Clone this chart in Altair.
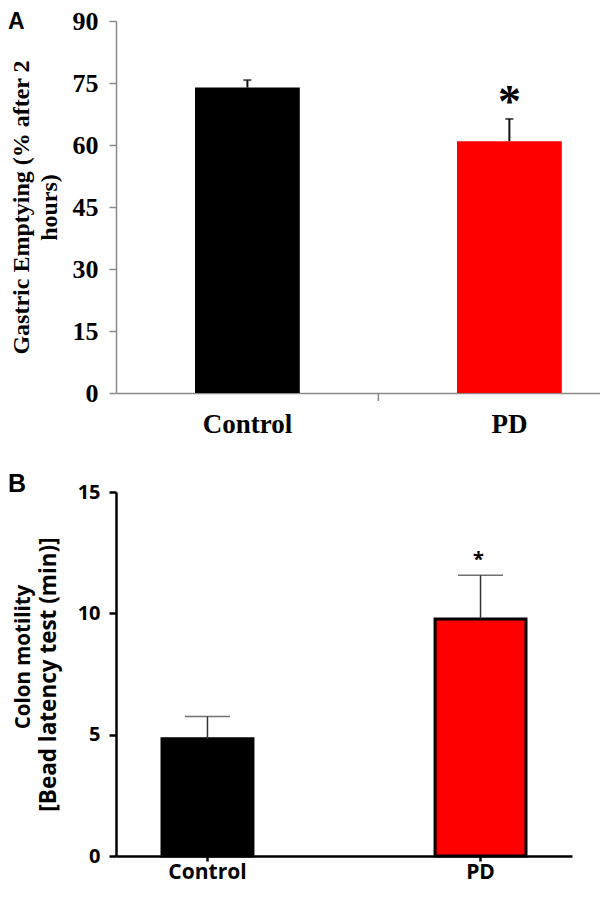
import altair as alt
import pandas as pd

# ---------------- data ----------------
cats = ["Control", "PD"]
bar_colors = ["#000000", "#ff0000"]

# Panel A: gastric emptying (% after 2 hours)
a_mean = [73.9, 60.9]
a_err = [1.8, 5.4]
a_sig = ["", "*"]
a_ticks = [0, 15, 30, 45, 60, 75, 90]

# Panel B: colon motility, bead latency test (min)
b_mean = [4.83, 9.77]
b_err = [0.92, 1.8]
b_sig = ["", "*"]
b_ticks = [0, 5, 10, 15]

dfA = pd.DataFrame({"cat": cats, "mean": a_mean,
                    "top": [m + e for m, e in zip(a_mean, a_err)], "sig": a_sig})
dfB = pd.DataFrame({"cat": cats, "mean": b_mean,
                    "top": [m + e for m, e in zip(b_mean, b_err)], "sig": b_sig})

SERIF = "Liberation Serif"
SANS = "Open Sans"
GRAY = "#8a8a8a"

# ---------------- panel A ----------------
WA, HA = 484, 372
xscaleA = alt.Scale(domain=cats, paddingInner=0.6, paddingOuter=0.2237, align=0.674)
xaxisA = alt.Axis(title=None, labelAngle=0, ticks=False, tickSize=0,
                  domainColor=GRAY, domainWidth=1.5,
                  labelFont=SERIF, labelFontWeight="bold", labelFontSize=27,
                  labelColor="black", labelPadding=18)
yscaleA = alt.Scale(domain=[0, 90], nice=False)
yaxisA = alt.Axis(values=a_ticks, grid=False,
                  title=["Gastric Emptying (% after 2", "hours)"],
                  titleFont=SERIF, titleFontWeight="bold", titleFontSize=24,
                  titleColor="black", titleLineHeight=28, titleAngle=270,
                  titleAlign="center", titleBaseline="top", titleX=-107, titleY=HA / 2,
                  domainColor=GRAY, domainWidth=1.5, tickColor=GRAY, tickWidth=1.5,
                  tickSize=7, labelFont=SERIF, labelFontWeight="bold",
                  labelFontSize=26, labelColor="black", labelPadding=11)

xA = alt.X("cat:N", sort=cats, scale=xscaleA, axis=xaxisA)
baseA = alt.Chart(dfA)

barsA = baseA.mark_bar().encode(
    x=xA,
    y=alt.Y("mean:Q", scale=yscaleA, axis=yaxisA),
    color=alt.Color("cat:N", scale=alt.Scale(domain=cats, range=bar_colors), legend=None),
)
errA = baseA.mark_rule(color="#111111", strokeWidth=2).encode(
    x=xA, y=alt.Y("mean:Q", scale=yscaleA, axis=yaxisA), y2="top:Q")
capA = baseA.mark_tick(color="#111111", thickness=2, size=8).encode(
    x=xA, y=alt.Y("top:Q", scale=yscaleA, axis=yaxisA))
starA = baseA.mark_text(font=SERIF, fontWeight="bold", fontSize=46, dy=-16,
                        color="black").encode(
    x=xA, y=alt.Y("top:Q", scale=yscaleA, axis=yaxisA), text="sig:N")
# category-separator tick of the x axis (midway between the two bars)
midtickA = baseA.transform_filter("datum.cat == 'PD'").mark_rule(
    color=GRAY, strokeWidth=1.5, xOffset=-78.6).encode(
    x=alt.X("cat:N", sort=cats, scale=xscaleA, axis=xaxisA, bandPosition=0),
    y=alt.value(HA), y2=alt.value(HA + 8))
letterA = alt.Chart(pd.DataFrame({"t": ["A"]})).mark_text(
    font="Liberation Sans", fontWeight="bold", fontSize=23, align="left",
    baseline="top", color="black").encode(
    x=alt.value(-108), y=alt.value(-10), text="t:N")

panelA = alt.layer(barsA, errA, capA, starA, midtickA, letterA).properties(width=WA, height=HA)

# ---------------- panel B ----------------
WB, HB = 456, 364
xscaleB = alt.Scale(domain=cats, paddingInner=0.667, paddingOuter=0.1685)
xaxisB = alt.Axis(title=None, labelAngle=0, domainColor="black", domainWidth=2.5,
                  tickColor="black", tickWidth=2.5, tickSize=5,
                  labelFont=SANS, labelFontWeight="bold", labelFontSize=21,
                  labelColor="black", labelPadding=0)
yscaleB = alt.Scale(domain=[0, 15], nice=False)
yaxisB = alt.Axis(values=b_ticks, grid=False,
                  title="[Bead latency test (min)]",
                  titleFont=SANS, titleFontWeight="bold", titleFontSize=22.5,
                  titleColor="black", titleAngle=270,
                  titleAlign="center", titleBaseline="top", titleX=-79, titleY=HB / 2,
                  domainColor="black", domainWidth=2.5, tickColor="black", tickWidth=2.5,
                  tickSize=7, labelFont=SANS, labelFontWeight="bold", labelFontSize=20,
                  labelColor="black", labelPadding=9)

xB = alt.X("cat:N", sort=cats, scale=xscaleB, axis=xaxisB)
baseB = alt.Chart(dfB)

barsB = baseB.mark_bar(stroke="black", strokeWidth=3).encode(
    x=xB,
    y=alt.Y("mean:Q", scale=yscaleB, axis=yaxisB),
    color=alt.Color("cat:N", scale=alt.Scale(domain=cats, range=bar_colors), legend=None),
)
errB = baseB.mark_rule(color="#333333", strokeWidth=1.5).encode(
    x=xB, y=alt.Y("mean:Q", scale=yscaleB, axis=yaxisB), y2="top:Q")
capB = baseB.mark_tick(color="#333333", thickness=1.5, size=45).encode(
    x=xB, y=alt.Y("top:Q", scale=yscaleB, axis=yaxisB))
starB = baseB.mark_text(font=SANS, fontWeight="bold", fontSize=20, dy=-15, dx=-2,
                        color="black").encode(
    x=xB, y=alt.Y("top:Q", scale=yscaleB, axis=yaxisB), text="sig:N")
letterB = alt.Chart(pd.DataFrame({"t": ["B"]})).mark_text(
    font="Liberation Sans", fontWeight="bold", fontSize=25, align="left",
    baseline="top", color="black").encode(
    x=alt.value(-108), y=alt.value(-20), text="t:N")
# first line of the two-line y title (set smaller than the second, as in the figure)
title1B = alt.Chart(pd.DataFrame({"t": ["Colon motility"]})).mark_text(
    font=SANS, fontWeight="bold", fontSize=20.5, align="center", baseline="top",
    angle=270, color="black").encode(
    x=alt.value(-102), y=alt.value(165), text="t:N")

panelB = alt.layer(barsB, errB, capB, starB, letterB, title1B).properties(width=WB, height=HB)

chart = alt.vconcat(panelA, panelB, spacing=35).properties(
    padding={"left": 0, "right": 0, "top": 0, "bottom": 2}, background="white"
).configure_view(stroke=None)

chart.save("out.html", embed_options={"renderer": "svg", "actions": False})
